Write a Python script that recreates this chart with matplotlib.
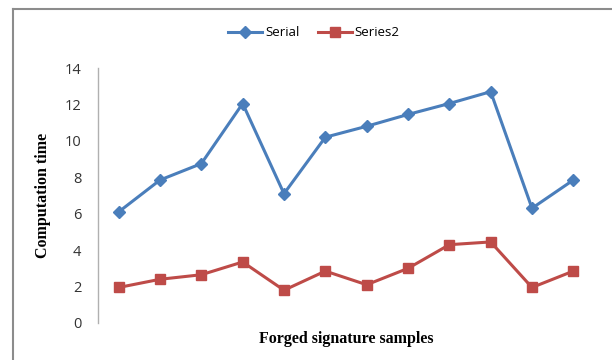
import numpy as np
import matplotlib
matplotlib.use("Agg")
import matplotlib.pyplot as plt
from matplotlib.lines import Line2D

samples = list(range(1, 13))
serial = [6.1, 7.85, 8.75, 12.05, 7.1, 10.2, 10.8, 11.45, 12.05, 12.7, 6.3, 7.85]
series2 = [1.95, 2.4, 2.65, 3.35, 1.8, 2.85, 2.1, 3.0, 4.3, 4.45, 1.95, 2.85]
yticks = [0, 2, 4, 6, 8, 10, 12, 14]

W, H = 612, 360
fig = plt.figure(figsize=(W / 100, H / 100), dpi=100)
ax = fig.add_axes([98 / W, 1 - 323 / H, (594 - 98) / W, (323 - 68) / H])

blue = "#4A7EBB"
red = "#BE4B48"
ax.plot(samples, serial, color=blue, lw=2.2, marker="D", ms=6,
        label="Serial")
ax.plot(samples, series2, color=red, lw=2.2, marker="s", ms=7.5,
        label="Series2")

ax.set_xlim(0.5, 12.5)
ax.set_ylim(0, 14)
ax.set_yticks(yticks)
ax.set_xticks([])
ax.tick_params(axis="y", length=0, pad=12, labelsize=10.5, labelcolor="#333333")
for lab in ax.get_yticklabels():
    lab.set_family("Open Sans")
for s in ["top", "right", "bottom"]:
    ax.spines[s].set_visible(False)
ax.spines["left"].set_color("#b0b0b0")
ax.spines["left"].set_linewidth(1.0)

ax.set_ylabel("Computation time", family="Liberation Serif", fontweight="bold",
              fontsize=11.5, labelpad=10)
ax.set_xlabel("Forged signature samples", family="Liberation Serif",
              fontweight="bold", fontsize=11.5, labelpad=6)

fig.legend(loc="center", bbox_to_anchor=(314 / W, 1 - 33 / H), ncol=2,
           frameon=False, prop={"family": "Open Sans", "size": 9.5},
           handlelength=2.6, columnspacing=1.4, handletextpad=0.2)

# outer chart frame (top and left edges visible)
fig.add_artist(Line2D([13 / W, 13 / W], [0, 1 - 9 / H], transform=fig.transFigure,
                      color="#8c8c8c", lw=1.5))
fig.add_artist(Line2D([13 / W, 1], [1 - 9 / H, 1 - 9 / H], transform=fig.transFigure,
                      color="#8c8c8c", lw=1.5))

fig.savefig("out.png", dpi=100)
